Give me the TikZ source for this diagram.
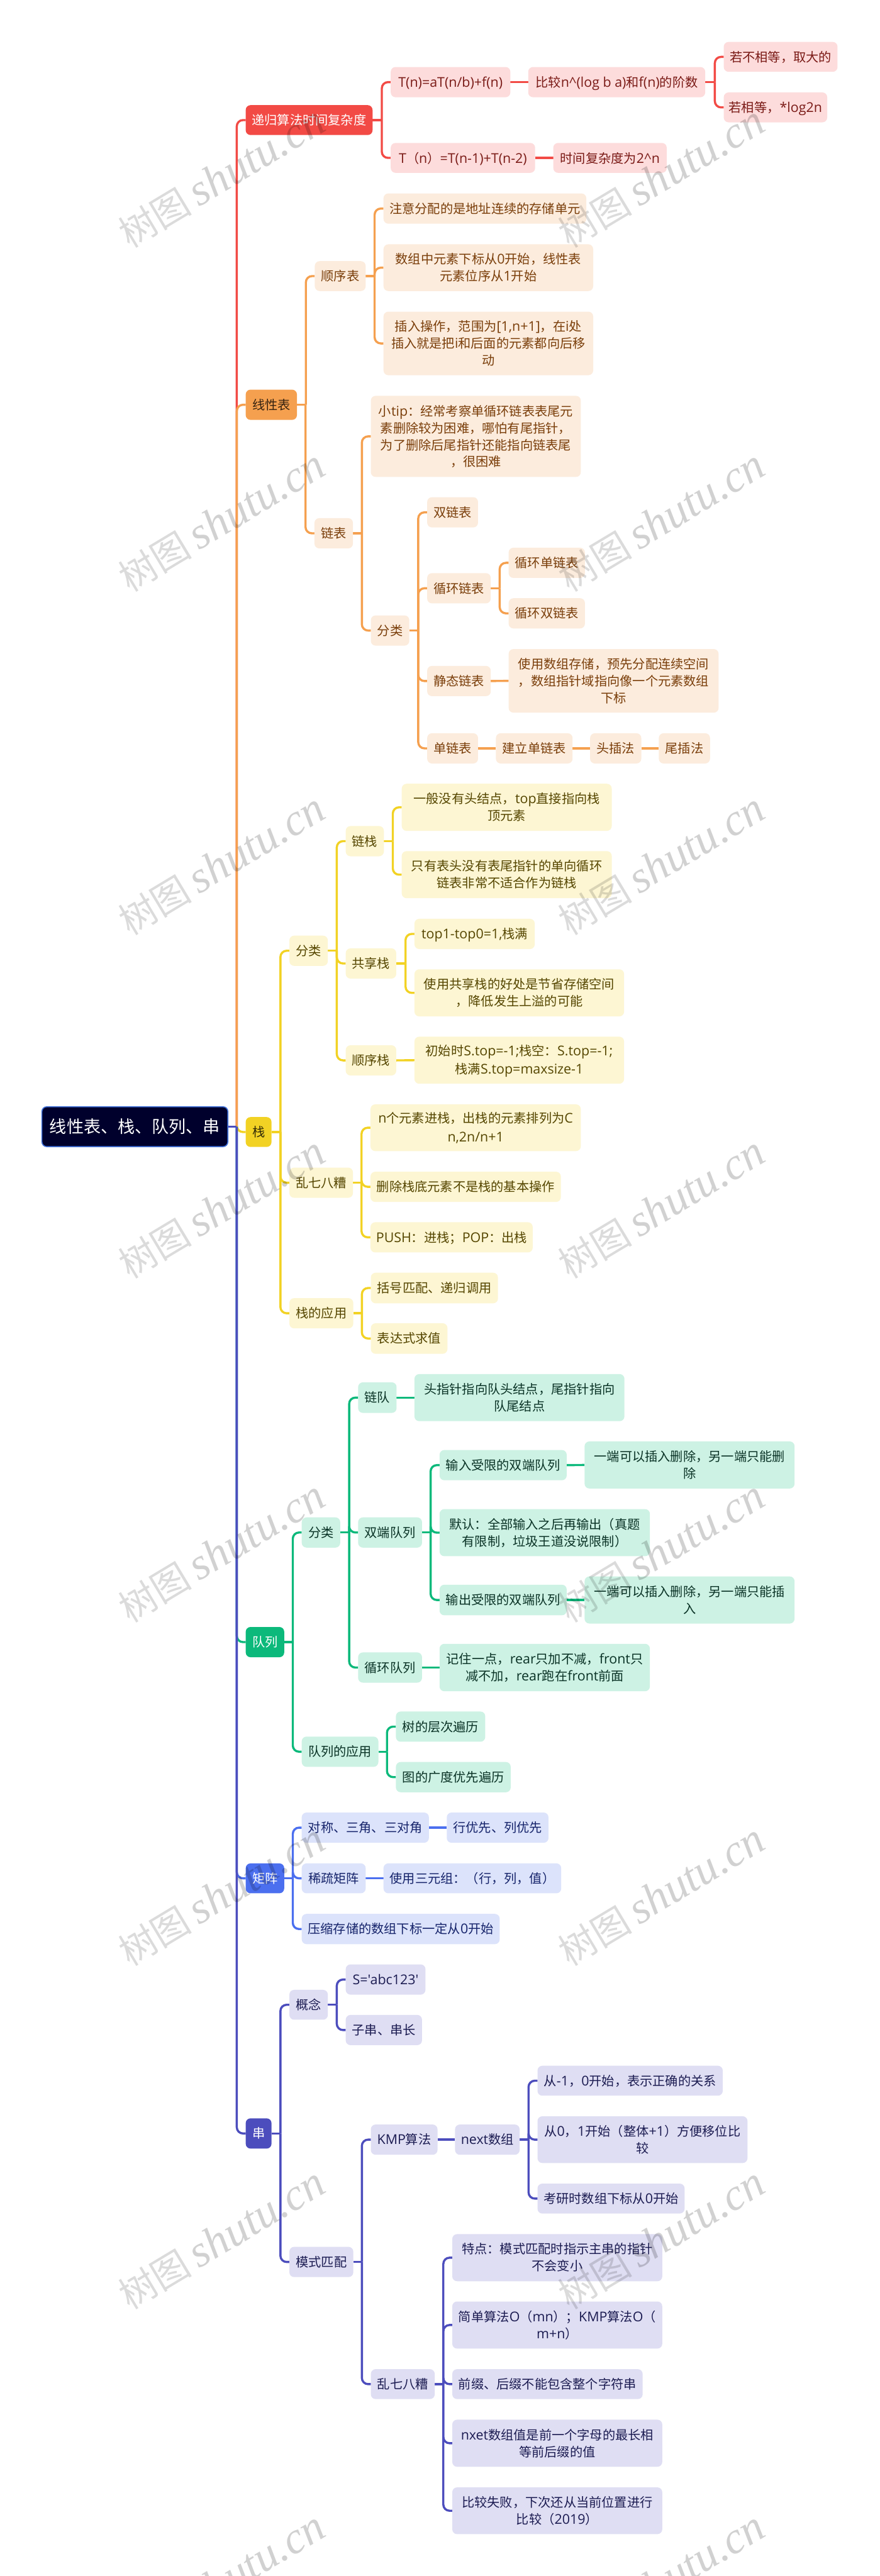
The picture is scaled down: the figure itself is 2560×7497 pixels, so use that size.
\documentclass[tikz,border=0pt]{standalone}
\usepackage{fontspec}
\setmainfont{Noto Sans CJK SC}
\newfontfamily\wmcjk[AutoFakeSlant=0.25]{Noto Sans CJK SC}
\newfontfamily\wmlat{Liberation Serif}
\font\latraw="Open Sans" at 19.6pt
\font\cjkraw="Noto Sans CJK SC" at 18.5pt
% ASCII is set in Open Sans, everything else in Noto Sans CJK
\chardef\latcl=100
\makeatletter
\count@=33
\loop \XeTeXcharclass\count@=\latcl \ifnum\count@<126 \advance\count@ by 1 \repeat
\@tempcnta=0
\loop
  \XeTeXinterchartoks\@tempcnta\latcl={\latraw}
  \XeTeXinterchartoks\latcl\@tempcnta={\cjkraw}
  \XeTeXinterchartoks 4095 \@tempcnta={\cjkraw}
\ifnum\@tempcnta<3 \advance\@tempcnta by 1 \repeat
\XeTeXinterchartoks 4095 \latcl={\latraw}
\makeatother
\newcommand\crt{\char94\relax}
\newcommand\nst{\rule[-.29em]{0pt}{1.335em}}
\newcommand\boxfont{\fontsize{18.5pt}{24.7pt}\selectfont\XeTeXinterchartokenstate=1\relax}
\usetikzlibrary{backgrounds}
\definecolor{cR}{HTML}{F24A45}\definecolor{cRl}{HTML}{FDDCDC}\definecolor{cRt}{HTML}{7A1A16}
\definecolor{cO}{HTML}{F5A04F}\definecolor{cOl}{HTML}{FCECDD}\definecolor{cOt}{HTML}{7A3E0A}
\definecolor{cY}{HTML}{F2D224}\definecolor{cYl}{HTML}{FDF6D3}\definecolor{cYt}{HTML}{554600}
\definecolor{cG}{HTML}{0CB97B}\definecolor{cGl}{HTML}{CDF2E4}\definecolor{cGt}{HTML}{0A3326}
\definecolor{cB}{HTML}{4B6FEF}\definecolor{cBl}{HTML}{DCE3FB}\definecolor{cBt}{HTML}{16246B}
\definecolor{cP}{HTML}{4C4DBD}\definecolor{cPl}{HTML}{DFDEF3}\definecolor{cPt}{HTML}{1C1C52}
\definecolor{cRoot}{HTML}{00002C}\definecolor{cRootB}{HTML}{3F6FD8}
\tikzset{
  box/.style={inner sep=0pt,outer sep=0pt,rounded corners=7pt,align=center,font=\boxfont},
  rootbox/.style={inner sep=0pt,outer sep=0pt,rounded corners=7pt,align=center,
    fill=cRoot,draw=cRootB,line width=1.5pt,text=white,font=\fontsize{24.8pt}{30pt}\selectfont},
  tR/.style={box,fill=cR,text=white},   sR/.style={box,fill=cRl,text=cRt},
  tO/.style={box,fill=cO,text=black!78!cO}, sO/.style={box,fill=cOl,text=cOt},
  tY/.style={box,fill=cY,text=black!80!cY}, sY/.style={box,fill=cYl,text=cYt},
  tG/.style={box,fill=cG,text=white},   sG/.style={box,fill=cGl,text=cGt},
  tB/.style={box,fill=cB,text=white},   sB/.style={box,fill=cBl,text=cBt},
  tP/.style={box,fill=cP,text=white},   sP/.style={box,fill=cPl,text=cPt},
  wire/.style={line width=3.1pt,line cap=butt},
  mark wm/.style={inner sep=0pt,rotate=31,text=black},
}
% name, x1,y1,x2,y2 in reference pixels, text
\newcommand\nd[7]{%
  \pgfmathsetmacro\ccx{(#3+#5)/2}\pgfmathsetmacro\ccy{(#4+#6)/2}%
  \node[#1,minimum width={(#5-#3)*0.5pt},minimum height={(#6-#4)*0.5pt}] (#2) at (\ccx,\ccy) {\nst #7\nst};}
% branch: parent east to trunk, trunk to child west
\newcommand\bra[3]{%
  \path (#3.west) ++(-26,0) coordinate (tk);
  \draw[wire,draw=#1] (#2.east) -- (#2.east -| tk);
  \draw[wire,draw=#1,rounded corners=9pt] (#2.east -| tk) -- (#3.west -| tk) -- (#3.west);}
\newcommand\lnk[3]{\draw[wire,draw=#1] (#2.east) -- (#3.west);}
\begin{document}
\begin{tikzpicture}[x=0.5pt,y=-0.5pt]
\useasboundingbox (0,0) rectangle (2560,7497);
% root
\nd{rootbox}{root}{122}{3221}{663}{3337}{线性表、栈、队列、串}
% red
\nd{tR}{di}{715}{306}{1084}{393}{递归算法时间复杂度}
\nd{sR}{tone}{1137}{195}{1485}{283}{T(n)=aT(n/b)+f(n)}
\nd{sR}{cmp}{1537}{195}{2052}{283}{比较n\crt(log b a)和f(n)的阶数}
\nd{sR}{neq}{2106}{122}{2437}{209}{若不相等，取大的}
\nd{sR}{eqq}{2106}{269}{2407}{356}{若相等，*log2n}
\nd{sR}{ttwo}{1137}{416}{1557}{503}{T（n）=T(n-1)+T(n-2)}
\nd{sR}{tres}{1610}{416}{1940}{503}{时间复杂度为2\crt n}
% orange
\nd{tO}{xx}{715}{1134}{864}{1222}{线性表}
\nd{sO}{sxb}{916}{760}{1064}{847}{顺序表}
\nd{sO}{sa}{1116}{563}{1706}{651}{注意分配的是地址连续的存储单元}
\nd{sO}{sb}{1116}{711}{1726}{847}{数组中元素下标从0开始，线性表\\元素位序从1开始}
\nd{sO}{sc}{1116}{907}{1726}{1092}{插入操作，范围为[1,n+1]，在i处\\插入就是把i和后面的元素都向后移\\动}
\nd{sO}{lb}{915}{1508}{1027}{1596}{链表}
\nd{sO}{tip}{1079}{1152}{1690}{1388}{小tip：经常考察单循环链表表尾元\\素删除较为困难，哪怕有尾指针，\\为了删除后尾指针还能指向链表尾\\，很困难}
\nd{sO}{lfl}{1079}{1791}{1191}{1879}{分类}
\nd{sO}{sl}{1243}{1447}{1391}{1535}{双链表}
\nd{sO}{xh}{1243}{1668}{1428}{1756}{循环链表}
\nd{sO}{xd}{1480}{1594}{1702}{1682}{循环单链表}
\nd{sO}{xs}{1480}{1741}{1702}{1829}{循环双链表}
\nd{sO}{jt}{1243}{1938}{1428}{2026}{静态链表}
\nd{sO}{jz}{1480}{1889}{2091}{2074}{使用数组存储，预先分配连续空间\\，数组指针域指向像一个元素数组\\下标}
\nd{sO}{dan}{1243}{2134}{1391}{2222}{单链表}
\nd{sO}{jl}{1443}{2134}{1666}{2222}{建立单链表}
\nd{sO}{tc}{1717}{2134}{1866}{2222}{头插法}
\nd{sO}{wc}{1917}{2134}{2066}{2222}{尾插法}
% yellow
\nd{tY}{zh}{715}{3251}{790}{3338}{栈}
\nd{sY}{zfl}{842}{2723}{954}{2811}{分类}
\nd{sY}{lz}{1006}{2404}{1117}{2492}{链栈}
\nd{sY}{lza}{1169}{2281}{1780}{2418}{一般没有头结点，top直接指向栈\\顶元素}
\nd{sY}{lzb}{1169}{2477}{1780}{2614}{只有表头没有表尾指针的单向循环\\链表非常不适合作为链栈}
\nd{sY}{gx}{1006}{2760}{1153}{2848}{共享栈}
\nd{sY}{gxa}{1206}{2674}{1556}{2762}{top1-top0=1,栈满}
\nd{sY}{gxb}{1206}{2821}{1816}{2958}{使用共享栈的好处是节省存储空间\\，降低发生上溢的可能}
\nd{sY}{sxz}{1006}{3042}{1153}{3130}{顺序栈}
\nd{sY}{sxa}{1206}{3017}{1816}{3154}{初始时S.top=-1;栈空：S.top=-1;\\栈满S.top=maxsize-1}
\nd{sY}{ln}{842}{3398}{1027}{3486}{乱七八糟}
\nd{sY}{lna}{1078}{3214}{1690}{3350}{n个元素进栈，出栈的元素排列为C\\n,2n/n+1}
\nd{sY}{lnb}{1078}{3410}{1632}{3498}{删除栈底元素不是栈的基本操作}
\nd{sY}{lnc}{1078}{3557}{1550}{3645}{PUSH：进栈；POP：出栈}
\nd{sY}{yy}{842}{3778}{1028}{3866}{栈的应用}
\nd{sY}{yya}{1079}{3704}{1449}{3793}{括号匹配、递归调用}
\nd{sY}{yyb}{1079}{3851}{1302}{3940}{表达式求值}
% green
\nd{tG}{dl}{715}{4735}{827}{4823}{队列}
\nd{sG}{gfl}{878}{4416}{990}{4504}{分类}
\nd{sG}{ld}{1042}{4023}{1154}{4112}{链队}
\nd{sG}{lda}{1206}{3999}{1817}{4136}{头指针指向队头结点，尾指针指向\\队尾结点}
\nd{sG}{sd}{1042}{4416}{1228}{4504}{双端队列}
\nd{sG}{sdi}{1279}{4220}{1649}{4308}{输入受限的双端队列}
\nd{sG}{sdia}{1701}{4195}{2312}{4332}{一端可以插入删除，另一端只能删\\除}
\nd{sG}{sdm}{1279}{4392}{1891}{4529}{默认：全部输入之后再输出（真题\\有限制，垃圾王道没说限制）}
\nd{sG}{sdo}{1279}{4612}{1649}{4701}{输出受限的双端队列}
\nd{sG}{sdoa}{1701}{4588}{2312}{4725}{一端可以插入删除，另一端只能插\\入}
\nd{sG}{xhd}{1042}{4809}{1228}{4897}{循环队列}
\nd{sG}{xhda}{1279}{4784}{1891}{4922}{记住一点，rear只加不减，front只\\减不加，rear跑在front前面}
\nd{sG}{dyy}{878}{5054}{1101}{5142}{队列的应用}
\nd{sG}{dya}{1152}{4981}{1412}{5069}{树的层次遍历}
\nd{sG}{dyb}{1152}{5128}{1486}{5216}{图的广度优先遍历}
% blue
\nd{tB}{jzn}{715}{5423}{827}{5510}{矩阵}
\nd{sB}{dc}{878}{5275}{1248}{5363}{对称、三角、三对角}
\nd{sB}{hy}{1300}{5275}{1596}{5363}{行优先、列优先}
\nd{sB}{xsj}{878}{5423}{1064}{5510}{稀疏矩阵}
\nd{sB}{sy}{1116}{5423}{1633}{5510}{使用三元组：（行，列，值）}
\nd{sB}{ys}{878}{5570}{1454}{5658}{压缩存储的数组下标一定从0开始}
% purple
\nd{tP}{chu}{715}{6165}{790}{6253}{串}
\nd{sP}{gn}{842}{5791}{954}{5878}{概念}
\nd{sP}{gna}{1006}{5717}{1238}{5805}{S='abc123'}
\nd{sP}{gnb}{1006}{5864}{1228}{5952}{子串、串长}
\nd{sP}{ms}{842}{6539}{1028}{6627}{模式匹配}
\nd{sP}{kmp}{1079}{6183}{1273}{6271}{KMP算法}
\nd{sP}{nxt}{1324}{6183}{1512}{6271}{next数组}
\nd{sP}{nxa}{1564}{6012}{2103}{6099}{从-1，0开始，表示正确的关系}
\nd{sP}{nxb}{1564}{6159}{2175}{6295}{从0，1开始（整体+1）方便移位比\\较}
\nd{sP}{nxc}{1564}{6355}{1992}{6442}{考研时数组下标从0开始}
\nd{sP}{lq}{1079}{6895}{1265}{6982}{乱七八糟}
\nd{sP}{lqa}{1316}{6502}{1927}{6639}{特点：模式匹配时指示主串的指针\\不会变小}
\nd{sP}{lqb}{1316}{6698}{1927}{6835}{简单算法O（mn）；KMP算法O（\\m+n）}
\nd{sP}{lqc}{1316}{6895}{1870}{6982}{前缀、后缀不能包含整个字符串}
\nd{sP}{lqd}{1316}{7042}{1927}{7179}{nxet数组值是前一个字母的最长相\\等前后缀的值}
\nd{sP}{lqe}{1316}{7239}{1927}{7375}{比较失败，下次还从当前位置进行\\比较（2019）}
% connectors
\begin{pgfonlayer}{background}
\fill[white] (0,0) rectangle (2560,7497);
\bra{cR}{root}{di}
\bra{cR}{di}{tone}\bra{cR}{di}{ttwo}\lnk{cR}{tone}{cmp}\bra{cR}{cmp}{neq}\bra{cR}{cmp}{eqq}\lnk{cR}{ttwo}{tres}
\bra{cO}{root}{xx}
\bra{cO}{xx}{sxb}\bra{cO}{xx}{lb}
\bra{cO}{sxb}{sa}\bra{cO}{sxb}{sb}\bra{cO}{sxb}{sc}
\bra{cO}{lb}{tip}\bra{cO}{lb}{lfl}
\bra{cO}{lfl}{sl}\bra{cO}{lfl}{xh}\bra{cO}{lfl}{jt}\bra{cO}{lfl}{dan}
\bra{cO}{xh}{xd}\bra{cO}{xh}{xs}
\lnk{cO}{jt}{jz}\lnk{cO}{dan}{jl}\lnk{cO}{jl}{tc}\lnk{cO}{tc}{wc}
\bra{cY}{root}{zh}
\bra{cY}{zh}{zfl}\bra{cY}{zh}{ln}\bra{cY}{zh}{yy}
\bra{cY}{zfl}{lz}\bra{cY}{zfl}{gx}\bra{cY}{zfl}{sxz}
\bra{cY}{lz}{lza}\bra{cY}{lz}{lzb}\bra{cY}{gx}{gxa}\bra{cY}{gx}{gxb}\lnk{cY}{sxz}{sxa}
\bra{cY}{ln}{lna}\bra{cY}{ln}{lnb}\bra{cY}{ln}{lnc}
\bra{cY}{yy}{yya}\bra{cY}{yy}{yyb}
\bra{cG}{root}{dl}
\bra{cG}{dl}{gfl}\bra{cG}{dl}{dyy}
\bra{cG}{gfl}{ld}\bra{cG}{gfl}{sd}\bra{cG}{gfl}{xhd}
\lnk{cG}{ld}{lda}
\bra{cG}{sd}{sdi}\bra{cG}{sd}{sdm}\bra{cG}{sd}{sdo}
\lnk{cG}{sdi}{sdia}\lnk{cG}{sdo}{sdoa}\lnk{cG}{xhd}{xhda}
\bra{cG}{dyy}{dya}\bra{cG}{dyy}{dyb}
\bra{cB}{root}{jzn}
\bra{cB}{jzn}{dc}\bra{cB}{jzn}{xsj}\bra{cB}{jzn}{ys}
\lnk{cB}{dc}{hy}\lnk{cB}{xsj}{sy}
\bra{cP}{root}{chu}
\bra{cP}{chu}{gn}\bra{cP}{chu}{ms}
\bra{cP}{gn}{gna}\bra{cP}{gn}{gnb}
\bra{cP}{ms}{kmp}\bra{cP}{ms}{lq}
\lnk{cP}{kmp}{nxt}
\bra{cP}{nxt}{nxa}\bra{cP}{nxt}{nxb}\bra{cP}{nxt}{nxc}
\bra{cP}{lq}{lqa}\bra{cP}{lq}{lqb}\bra{cP}{lq}{lqc}\bra{cP}{lq}{lqd}\bra{cP}{lq}{lqe}
\end{pgfonlayer}
% watermark
\foreach \k in {0,...,7}{
  \foreach \cxx/\tag in {645/a,1925/b}{
    \node[mark wm] (wm\tag\k) at (\cxx,{516+1000*\k})
      {{\wmcjk\fontsize{54pt}{58pt}\selectfont\pgfsetfillopacity{0.14}树图}\hspace{10pt}{\wmlat\itshape\fontsize{65pt}{70pt}\selectfont\pgfsetfillopacity{0.18}shutu.cn}};
  }
}
\end{tikzpicture}
\end{document}
